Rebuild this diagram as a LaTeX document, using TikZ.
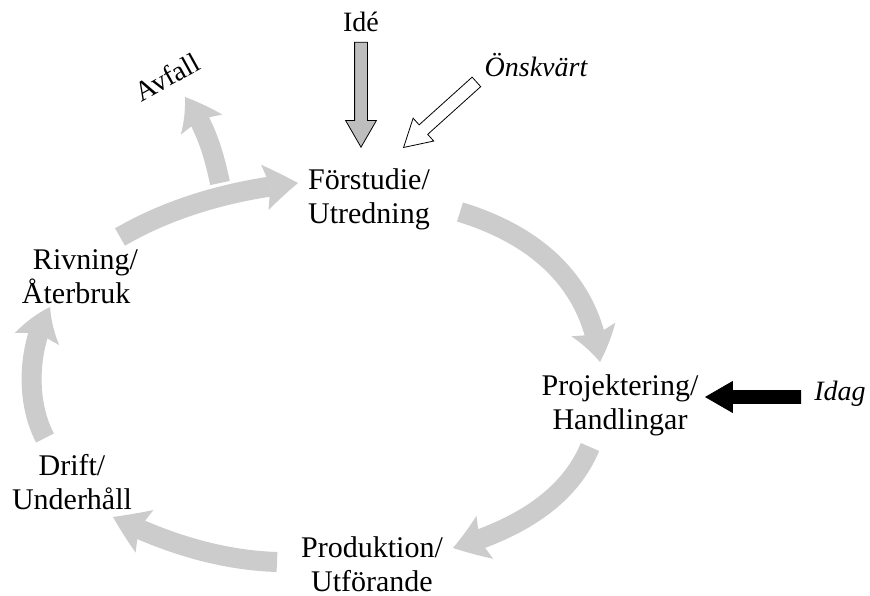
\documentclass[tikz,border=0pt]{standalone}
\usepackage{fontspec}
\setmainfont{Liberation Serif}
\usetikzlibrary{arrows.meta,shapes.arrows,bending}
\definecolor{cyc}{RGB}{204,204,204}
\definecolor{ideafill}{RGB}{190,190,190}
\begin{document}
\begin{tikzpicture}[x=1pt,y=-1pt,
  lbl/.style={font=\fontsize{30}{34}\selectfont, align=center, inner sep=0pt},
  sml/.style={font=\fontsize{28}{32}\selectfont, inner sep=0pt},
  ita/.style={font=\fontsize{28}{32}\selectfont\itshape, inner sep=0pt},
  cycarrow/.style={draw=cyc, line width=20pt,
    -{Stealth[length=34pt,width=46pt,inset=6pt,line width=0pt,bend]}},
  fat/.style={single arrow, draw=black, line width=0.8pt, inner sep=6pt,
    single arrow head extend=9pt, single arrow tip angle=60, anchor=tip}
]
\fill[white] (0,0) rectangle (870,596);
\useasboundingbox (0,0) rectangle (870,596);

% labels
\node[lbl] (fs) at (369,199) {Förstudie/\\Utredning};
\node[lbl] (pr) at (620,405) {Projektering/\\Handlingar};
\node[lbl] (pu) at (372,564) {Produktion/\\Utförande};
\node[lbl] (dr) at (72,482) {Drift/\\Underhåll};
\node[lbl, align=left] (rv) at (80,277) {\hspace*{11pt}Rivning/\\Återbruk};
\node[sml] (idea) at (361,22) {Idé};
\node[ita] (wish) at (536,65) {Önskvärt};
\node[ita] (today) at (840,394) {Idag};
\node[sml, rotate=29] (waste) at (167,77) {Avfall};

% cycle arrow end points
\coordinate (a1s) at (460,212); \coordinate (a1e) at (600,362);
\coordinate (a2s) at (590,447); \coordinate (a2e) at (453,548);
\coordinate (a3s) at (277,562); \coordinate (a3e) at (113,517);
\coordinate (a4s) at (45,438);  \coordinate (a4e) at (50,307);
\coordinate (a5s) at (120,237); \coordinate (a5e) at (298,183);
\coordinate (a6s) at (220,183); \coordinate (a6e) at (185,97);

\draw[cycarrow] (a1s) .. controls (545,238) and (592,290) .. (a1e);
\draw[cycarrow] (a2s) .. controls (568,500) and (515,530) .. (a2e);
\draw[cycarrow] (a3s) .. controls (215,560) and (160,540) .. (a3e);
\draw[cycarrow] (a4s) .. controls (25,400) and (28,345) .. (a4e);
\draw[cycarrow] (a5s) .. controls (170,208) and (230,190) .. (a5e);
\draw[cycarrow] (a6s) .. controls (213,150) and (205,125) .. (a6e);

% block arrows
\node[fat, fill=ideafill, minimum height=105pt, rotate=-90] (ideaarrow) at (361,148) {};
\node[fat, fill=white, minimum height=98pt, rotate=222] (wisharrow) at (403,148) {};
\node[fat, fill=black, minimum height=95pt, rotate=180] (todayarrow) at (705,397) {};
\end{tikzpicture}
\end{document}
